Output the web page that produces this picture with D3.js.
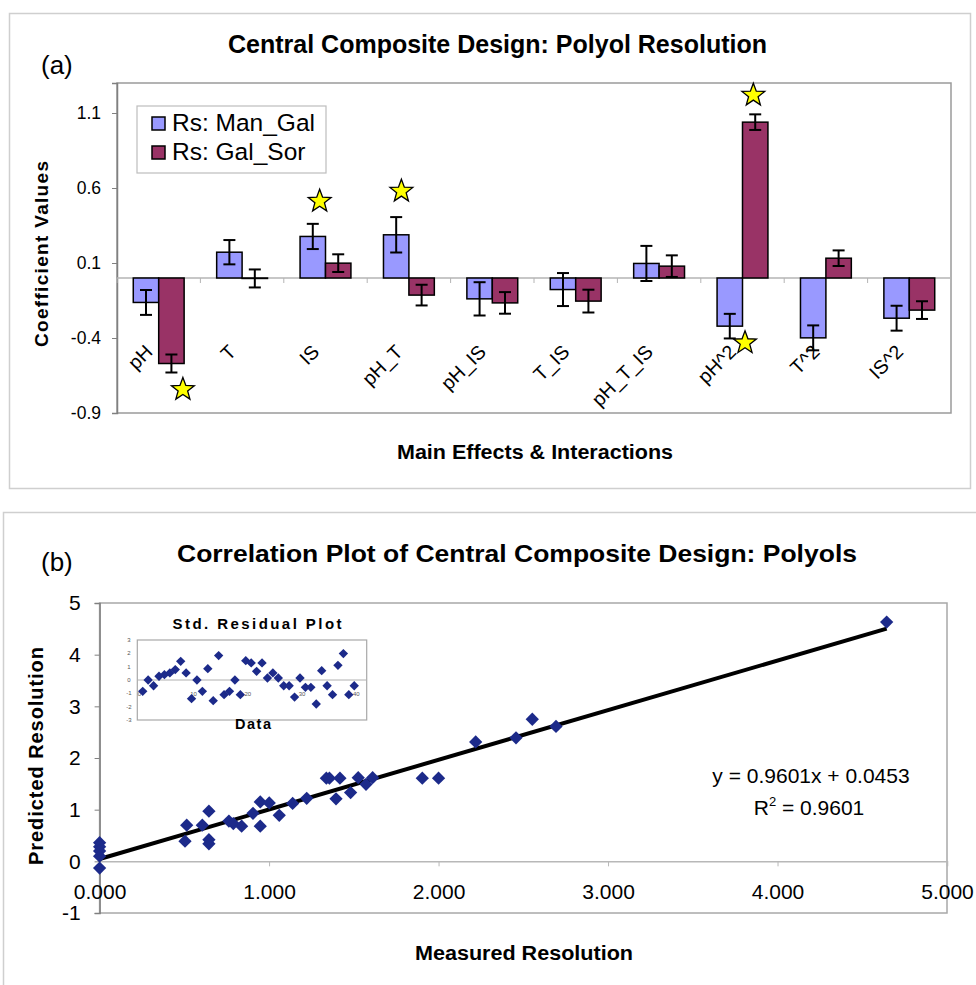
<!DOCTYPE html>
<html><head><meta charset="utf-8">
<script src="https://cdn.jsdelivr.net/npm/d3@7"></script>
<style>
body{margin:0;background:#fff}
text{font-family:"Liberation Sans",Arial,sans-serif}
</style>
</head><body><svg id="c" width="976" height="985"></svg>
<script>
// ---------- Data: panel (a) ----------
const categories = ["pH","T","IS","pH_T","pH_IS","T_IS","pH_T_IS","pH^2","T^2","IS^2"];
const seriesNames = ["Rs: Man_Gal","Rs: Gal_Sor"];
const manGal    = [-0.163, 0.172, 0.277, 0.288, -0.139, -0.077, 0.097, -0.321, -0.399, -0.268];
const galSor    = [-0.570, -0.003, 0.099, -0.114, -0.166, -0.154, 0.079, 1.039, 0.132, -0.214];
const manGalErr = [0.083, 0.081, 0.084, 0.118, 0.111, 0.110, 0.117, 0.082, 0.083, 0.083];
const galSorErr = [0.060, 0.060, 0.059, 0.069, 0.072, 0.076, 0.072, 0.052, 0.052, 0.059];
const starCatPos = [0.79, 2.43, 3.41, 7.63, 7.53];   // position along category axis
const starValues = [-0.743, 0.512, 0.579, 1.219, -0.432];
const coefTicks  = [-0.9, -0.4, 0.1, 0.6, 1.1];

// ---------- Data: panel (b) ----------
const measured  = [0,0,0,0,0, 0.504,0.514, 0.606, 0.645,0.645,0.645, 0.763,0.789,0.838, 0.905, 0.948,0.948,
                   1.001, 1.06, 1.139, 1.222, 1.338,1.356, 1.395, 1.418, 1.481, 1.526, 1.572, 1.611,
                   1.904, 2.0, 2.219, 2.457, 2.553, 2.693, 4.644];
const predicted = [0.36,0.28,0.2,0.1,-0.13, 0.39,0.70, 0.70, 0.97,0.42,0.34, 0.78,0.73,0.68, 0.93, 1.15,0.68,
                   1.13, 0.89, 1.12, 1.22, 1.61,1.61, 1.21, 1.61, 1.33, 1.62, 1.49, 1.62,
                   1.61, 1.61, 2.31, 2.39, 2.75, 2.61, 4.63];
const fitSlope = 0.9601, fitIntercept = 0.0453, fitR2 = "0.9601";
const corrXTicks = [0,1,2,3,4,5];
const corrYTicks = [-1,0,1,2,3,4,5];
const residuals = [-0.85,0,-0.43,0.28,0.4,0.53,0.78,1.4,0.53,-1.4,
                   0,-0.85,0.85,-1.55,1.83,-1.1,-0.85,0,-1.1,1.45,
                   1.28,0.65,1.28,0.15,0.53,0.15,-0.43,-0.43,-1.28,0.15,
                   -0.55,-0.55,-1.8,0.7,-0.43,-1.1,1.1,1.98,-1.1,-0.43];
const residXTicks = [0,10,20,30,40];
const residYTicks = [-3,-2,-1,0,1,2,3];

const svg = d3.select("#c");
svg.append("rect").attr("width",976).attr("height",985).attr("fill","#fff");

// ================= Panel (a) =================
const A = {l:117, r:951, t:83, b:413};
svg.append("rect").attr("x",9.5).attr("y",13.5).attr("width",961).attr("height",475)
  .attr("fill","none").attr("stroke","#cfcfcf").attr("stroke-width",1.5);

svg.append("text").attr("x",497.5).attr("y",53).attr("text-anchor","middle")
  .attr("font-size",25).attr("font-weight","bold").attr("textLength",539).attr("lengthAdjust","spacingAndGlyphs")
  .text("Central Composite Design: Polyol Resolution");
svg.append("text").attr("x",41).attr("y",74).attr("font-size",26).text("(a)");

const yA = d3.scaleLinear().domain([-0.9,1.3]).range([A.b,A.t]);
const xA = d3.scaleBand().domain(categories).range([A.l,A.r]);
const xSub = d3.scaleBand().domain(seriesNames).range([0,xA.bandwidth()]).paddingOuter(0.64);
const xCat = d3.scaleLinear().domain([0,categories.length]).range([A.l,A.r]);

svg.append("rect").attr("x",A.l).attr("y",A.t).attr("width",A.r-A.l).attr("height",A.b-A.t)
  .attr("fill","#fff").attr("stroke","#9a9a9a").attr("stroke-width",1.5);

const gyA = svg.append("g").attr("transform",`translate(${A.l},0)`)
  .call(d3.axisLeft(yA).tickValues(coefTicks).tickSize(5).tickPadding(11).tickFormat(d=>d.toFixed(1)));
gyA.select(".domain").attr("stroke","#808080").attr("stroke-width",1.5);
gyA.selectAll(".tick line").attr("stroke","#808080");
gyA.selectAll("text").attr("font-size",17.5).attr("fill","#000").style("font-family","Liberation Sans, Arial");

// zero line and category ticks
svg.append("line").attr("x1",A.l).attr("x2",A.r).attr("y1",yA(0)).attr("y2",yA(0))
  .attr("stroke","#b4b4b4").attr("stroke-width",1.5);
svg.selectAll(".ctick").data(d3.range(categories.length+1)).join("line")
  .attr("x1",d=>xCat(d)).attr("x2",d=>xCat(d)).attr("y1",yA(0)).attr("y2",yA(0)+5)
  .attr("stroke","#b4b4b4");

const colors = {"Rs: Man_Gal":"#9999ff","Rs: Gal_Sor":"#993366"};
const barData = [];
categories.forEach((c,i)=>{
  barData.push({cat:c, s:seriesNames[0], v:manGal[i], e:manGalErr[i]});
  barData.push({cat:c, s:seriesNames[1], v:galSor[i], e:galSorErr[i]});
});
svg.append("g").selectAll("rect").data(barData).join("rect")
  .attr("x",d=>xA(d.cat)+xSub(d.s))
  .attr("y",d=>Math.min(yA(d.v),yA(0)))
  .attr("width",xSub.bandwidth())
  .attr("height",d=>Math.abs(yA(d.v)-yA(0)))
  .attr("fill",d=>colors[d.s]).attr("stroke","#000").attr("stroke-width",1.5);

const eg = svg.append("g").attr("stroke","#000").attr("stroke-width",2);
barData.forEach(d=>{
  const cx = xA(d.cat)+xSub(d.s)+xSub.bandwidth()/2;
  eg.append("line").attr("x1",cx).attr("x2",cx).attr("y1",yA(d.v-d.e)).attr("y2",yA(d.v+d.e));
  [d.v-d.e,d.v+d.e].forEach(v=>eg.append("line").attr("x1",cx-6).attr("x2",cx+6).attr("y1",yA(v)).attr("y2",yA(v)));
});

// category labels
svg.append("g").selectAll("text").data(categories).join("text")
  .attr("transform",d=>`translate(${xA(d)+xA.bandwidth()/2-5},353) rotate(-45)`)
  .attr("text-anchor","end").attr("font-size",19.5).text(d=>d);

// stars
function starPath(R,r){
  const pts=[];
  for(let i=0;i<10;i++){const a=-Math.PI/2+i*Math.PI/5;const rr=i%2?r:R;pts.push([rr*Math.cos(a),rr*Math.sin(a)]);}
  return "M"+pts.map(p=>p.join(",")).join("L")+"Z";
}
svg.append("g").selectAll("path").data(starCatPos).join("path")
  .attr("d",starPath(12,5))
  .attr("transform",(d,i)=>`translate(${xCat(d)},${yA(starValues[i])})`)
  .attr("fill","#ffff00").attr("stroke","#000").attr("stroke-width",1.3);

// legend
const lg = svg.append("g");
lg.append("rect").attr("x",137).attr("y",106).attr("width",189).attr("height",67)
  .attr("fill","#fff").attr("stroke","#bdbdbd").attr("stroke-width",1.2);
seriesNames.forEach((s,i)=>{
  lg.append("rect").attr("x",152).attr("y",117+i*29).attr("width",13).attr("height",13)
    .attr("fill",colors[s]).attr("stroke","#000").attr("stroke-width",1.5);
  lg.append("text").attr("x",172).attr("y",131+i*29).attr("font-size",24.5).text(s);
});

// axis titles
svg.append("text").attr("transform","translate(48,254) rotate(-90)").attr("text-anchor","middle")
  .attr("font-size",19).attr("font-weight","bold").attr("textLength",186).text("Coefficient Values");
svg.append("text").attr("x",535).attr("y",459).attr("text-anchor","middle")
  .attr("font-size",20).attr("font-weight","bold").attr("textLength",276).attr("lengthAdjust","spacingAndGlyphs")
  .text("Main Effects & Interactions");

// ================= Panel (b) =================
const B = {l:99.6, r:947, t:603, b:913};
svg.append("rect").attr("x",3.5).attr("y",512.5).attr("width",1000).attr("height",500)
  .attr("fill","none").attr("stroke","#cfcfcf").attr("stroke-width",1.5);
svg.append("text").attr("x",517).attr("y",562).attr("text-anchor","middle")
  .attr("font-size",24).attr("font-weight","bold").attr("textLength",680).attr("lengthAdjust","spacingAndGlyphs")
  .text("Correlation Plot of Central Composite Design: Polyols");
svg.append("text").attr("x",41).attr("y",571).attr("font-size",26).text("(b)");

const xB = d3.scaleLinear().domain([0,5]).range([B.l,B.r]);
const yB = d3.scaleLinear().domain([-1,5]).range([B.b,B.t]);

svg.append("rect").attr("x",B.l).attr("y",B.t).attr("width",B.r-B.l).attr("height",B.b-B.t)
  .attr("fill","#fff").attr("stroke","#a8a8a8").attr("stroke-width",1.5);
const gyB = svg.append("g").attr("transform",`translate(${B.l},0)`)
  .call(d3.axisLeft(yB).tickValues(corrYTicks).tickSize(5).tickPadding(14).tickFormat(d=>String(d)));
gyB.select(".domain").attr("stroke","#808080").attr("stroke-width",1.5);
gyB.selectAll(".tick line").attr("stroke","#808080");
gyB.selectAll("text").attr("font-size",21).attr("fill","#000").style("font-family","Liberation Sans, Arial");

const gxB = svg.append("g").attr("transform",`translate(0,${yB(0)})`)
  .call(d3.axisBottom(xB).tickValues(corrXTicks).tickSize(5).tickPadding(18).tickFormat(d=>d.toFixed(3)));
gxB.select(".domain").attr("stroke","#b8b8b8").attr("stroke-width",1.5);
gxB.selectAll(".tick line").attr("stroke","#b8b8b8");
gxB.selectAll("text").attr("font-size",21).attr("fill","#000").style("font-family","Liberation Sans, Arial");

// fit line
const xMax = d3.max(measured);
svg.append("line").attr("x1",xB(0)).attr("y1",yB(fitIntercept))
  .attr("x2",xB(xMax)).attr("y2",yB(fitSlope*xMax+fitIntercept))
  .attr("stroke","#000").attr("stroke-width",4);

// points (squares rotated 45 = Excel diamonds)
const diamond = d3.symbol(d3.symbolSquare,88)();
svg.append("g").selectAll("path").data(measured).join("path")
  .attr("d",diamond)
  .attr("transform",(d,i)=>`translate(${xB(d)},${yB(predicted[i])}) rotate(45)`)
  .attr("fill","#1c2a8a");

// equation
svg.append("text").attr("x",811).attr("y",783).attr("text-anchor","middle").attr("font-size",21)
  .text(`y = ${fitSlope}x + ${fitIntercept}`);
const r2 = svg.append("text").attr("x",809).attr("y",815).attr("text-anchor","middle").attr("font-size",21);
r2.append("tspan").text("R");
r2.append("tspan").attr("font-size",13).attr("dy",-9).text("2");
r2.append("tspan").attr("dy",9).text(` = ${fitR2}`);

// axis titles
svg.append("text").attr("transform","translate(43,756) rotate(-90)").attr("text-anchor","middle")
  .attr("font-size",20).attr("font-weight","bold").attr("textLength",218).text("Predicted Resolution");
svg.append("text").attr("x",524).attr("y",960).attr("text-anchor","middle")
  .attr("font-size",20).attr("font-weight","bold").attr("textLength",218).attr("lengthAdjust","spacingAndGlyphs")
  .text("Measured Resolution");

// ---------- inset residual plot ----------
const I = {l:137.3, r:366.7, t:640, b:720};
const xI = d3.scaleLinear().domain([0,42.3]).range([I.l,I.r]);
const yI = d3.scaleLinear().domain([-3,3]).range([I.b,I.t]);
svg.append("rect").attr("x",I.l).attr("y",I.t).attr("width",I.r-I.l).attr("height",I.b-I.t)
  .attr("fill","#fff").attr("stroke","#a8a8a8").attr("stroke-width",1.2);
svg.append("line").attr("x1",I.l).attr("x2",I.r).attr("y1",yI(0)).attr("y2",yI(0)).attr("stroke","#b0b0b0");
svg.append("g").selectAll("text").data(residYTicks).join("text")
  .attr("x",129).attr("y",d=>yI(d)+2).attr("text-anchor","middle").attr("font-size",6).attr("fill","#555")
  .text(d=>String(d));
svg.append("g").selectAll("text").data(residXTicks).join("text")
  .attr("x",d=>xI(d)+2).attr("y",yI(-1)+2.5).attr("text-anchor","middle").attr("font-size",6).attr("fill","#555")
  .text(d=>String(d));
const dSmall = d3.symbol(d3.symbolSquare,44)();
svg.append("g").selectAll("path").data(residuals).join("path")
  .attr("d",dSmall)
  .attr("transform",(d,i)=>`translate(${xI(i+1)},${yI(d)}) rotate(45)`)
  .attr("fill","#1c2a8a");
svg.append("text").attr("x",257).attr("y",629).attr("text-anchor","middle").attr("font-size",15)
  .attr("font-weight","bold").attr("textLength",169).text("Std. Residual Plot");
svg.append("text").attr("x",253).attr("y",729).attr("text-anchor","middle").attr("font-size",14.5)
  .attr("font-weight","bold").attr("textLength",36).text("Data");
</script>
</body></html>
